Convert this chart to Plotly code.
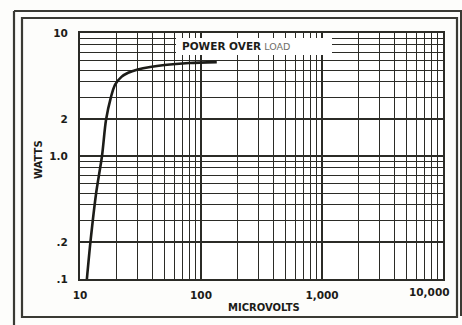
import plotly.graph_objects as go

# Power output versus input signal (log-log)
microvolts = [11.4, 12.2, 13.6, 15.2, 16.4, 18.0, 19.5, 22.0, 25.0, 30.0, 38.0, 50.0, 80.0, 135.0]
watts = [0.1, 0.2, 0.5, 1.0, 1.96, 3.0, 3.8, 4.4, 4.75, 5.05, 5.3, 5.5, 5.7, 5.8]

x_tickvals = [10, 100, 1000, 10000]
x_ticktext = ["10", "100", "1,000", ""]
y_tickvals = [0.1, 0.2, 1.0, 2, 10]
y_ticktext = [".1", ".2", "1.0", "2", "10"]

W, H = 462, 325
ML, MR, MT, MB = 80, 19, 33, 46
PW, PH = W - ML - MR, H - MT - MB

INK = "#1c1c18"
GRID = "#2b2b26"
FONT = "DejaVu Sans"


def px(x):
    return (x - ML) / PW


def py(y):
    return 1 - (y - MT) / PH


fig = go.Figure()
fig.add_trace(go.Scatter(
    x=microvolts, y=watts, mode="lines",
    line=dict(color=INK, width=2.6, shape="spline", smoothing=0.8),
    showlegend=False, hoverinfo="skip",
))

fig.update_xaxes(
    type="log", range=[1, 4],
    tickvals=x_tickvals, ticktext=x_ticktext,
    showgrid=True, gridcolor=GRID, gridwidth=1.6,
    minor=dict(dtick="D1", showgrid=True, gridcolor=GRID, gridwidth=1.3),
    showline=True, linecolor=GRID, linewidth=2, mirror=True,
    ticks="", ticklabelstandoff=5,
    tickfont=dict(family=FONT, size=10.5, color=INK, weight="bold"),
    zeroline=False,
)
fig.update_yaxes(
    type="log", range=[-1, 1],
    tickvals=y_tickvals, ticktext=y_ticktext,
    showgrid=True, gridcolor=GRID, gridwidth=1.6,
    minor=dict(dtick="D1", showgrid=True, gridcolor=GRID, gridwidth=1.3),
    showline=True, linecolor=GRID, linewidth=2, mirror=True,
    ticks="", ticklabelstandoff=8,
    tickfont=dict(family=FONT, size=10.5, color=INK, weight="bold"),
    zeroline=False,
)

annotations = [
    # last x tick label, kept inside the frame
    dict(x=4, y=-1, xref="x", yref="y", text="<b>10,000</b>", showarrow=False,
         xanchor="right", yanchor="top", xshift=9, yshift=-5,
         font=dict(family=FONT, size=10.5, color=INK)),
    # axis titles
    dict(x=px(264), y=py(307), xref="paper", yref="paper", text="<b>MICROVOLTS</b>",
         xanchor="center", yanchor="middle", showarrow=False,
         font=dict(family=FONT, size=10, color=INK)),
    dict(x=px(38), y=py(160), xref="paper", yref="paper", text="<b>WATTS</b>",
         xanchor="center", yanchor="middle", showarrow=False, textangle=-90,
         font=dict(family=FONT, size=10, color=INK)),
    # label on the grid
    dict(x=px(180), y=py(46), xref="paper", yref="paper", xanchor="left", yanchor="middle",
         text="<b>POWER OVER</b><span style='color:#6e6e68;font-size:9.5px'> LOAD</span>",
         showarrow=False, font=dict(family=FONT, size=10.5, color=INK)),
]

shapes = [
    # white patch behind the label
    dict(type="rect", xref="paper", yref="paper", x0=px(176), x1=px(332),
         y0=py(55), y1=py(38), fillcolor="white", line=dict(width=0), layer="above"),
    # inner frame
    dict(type="rect", xref="paper", yref="paper", x0=px(22), x1=px(457),
         y0=py(317), y1=py(18), line=dict(color="#3a3a34", width=2.2), layer="below"),
    # outer frame edges
    dict(type="line", xref="paper", yref="paper", x0=px(14), x1=px(14),
         y0=py(325), y1=py(11), line=dict(color="#3a3a34", width=2.2)),
    dict(type="line", xref="paper", yref="paper", x0=px(14), x1=px(462),
         y0=py(11), y1=py(11), line=dict(color="#3a3a34", width=2)),
    dict(type="line", xref="paper", yref="paper", x0=px(461), x1=px(461),
         y0=py(11), y1=py(316), line=dict(color="#3a3a34", width=2)),
]

fig.update_layout(
    width=W, height=H, autosize=False,
    margin=dict(l=ML, r=MR, t=MT, b=MB),
    paper_bgcolor="#fdfdfb", plot_bgcolor="white",
    annotations=annotations, shapes=shapes,
    showlegend=False,
)

fig.write_html("out.html")
